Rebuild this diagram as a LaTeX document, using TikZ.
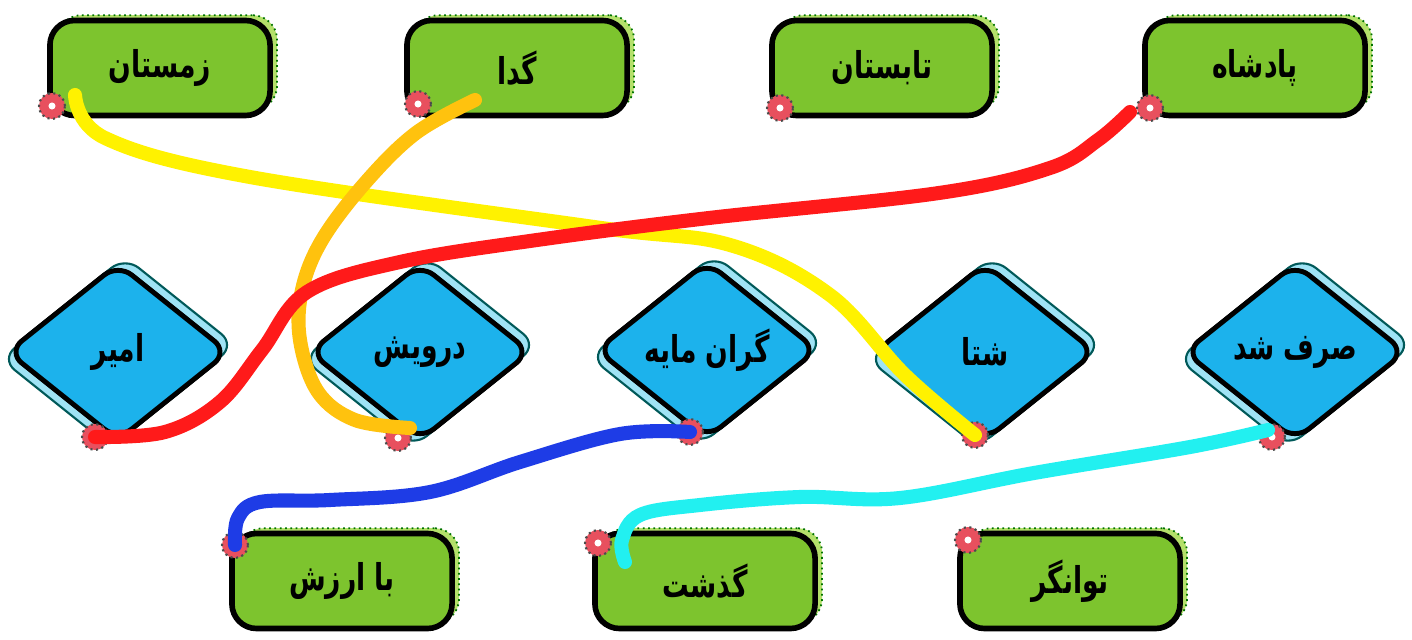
\documentclass[tikz,border=0pt]{standalone}
\usepackage{fontspec}
\newfontfamily\persianfont[Script=Arabic, FakeStretch=0.72]{DejaVu Sans}
\TeXXeTstate=1
\usetikzlibrary{shapes.geometric, shadows}

\newcommand{\fatext}[1]{{\persianfont\bfseries\fontsize{10.5}{12}\selectfont\beginR #1\endR}}

\definecolor{boxgreen}{HTML}{7DC42E}
\definecolor{rimgreen}{HTML}{B4E06A}
\definecolor{boxblue}{HTML}{1CB2EC}
\definecolor{rimblue}{HTML}{9FE3F5}
\definecolor{pinred}{HTML}{E8505E}
\definecolor{penyellow}{HTML}{FFF200}
\definecolor{penorange}{HTML}{FFC20E}
\definecolor{penred}{HTML}{FF1A1A}
\definecolor{penblue}{HTML}{1E3CE6}
\definecolor{pencyan}{HTML}{22F0F0}

\begin{document}
\begin{tikzpicture}[
  x=0.01cm, y=-0.01cm,
  word/.style={rectangle, draw, line width=1.6pt, rounded corners=7pt, fill=boxgreen,
    minimum width=2.2cm, minimum height=0.95cm,
    copy shadow={shadow xshift=2pt, shadow yshift=1.5pt, fill=rimgreen, draw=green!45!black, densely dotted, line width=0.5pt}},
  meaning/.style={diamond, aspect=1.25, draw, line width=1.4pt, rounded corners=5pt, fill=boxblue,
    minimum width=2.22cm, minimum height=1.78cm, inner sep=0pt,
    copy shadow={shadow xshift=2pt, shadow yshift=2pt, fill=rimblue, draw=teal!70!black, line width=0.6pt},
    copy shadow={shadow xshift=-2pt, shadow yshift=-2pt, fill=rimblue, draw=teal!70!black, line width=0.6pt}},
  pin/.style={circle, fill=pinred, draw=black!70, densely dotted, line width=0.6pt,
    minimum size=0.26cm, inner sep=0pt,
    path picture={\fill[white] (path picture bounding box.center) circle (1pt);}},
  pen/.style={line width=4pt, line cap=round, line join=round}
]

\fill[white] (0,0) rectangle (1412,640);
\useasboundingbox (0,0) rectangle (1412,640);

% Top words
\node[word] (zemestan) at (160,68) {\fatext{زمستان}};
\node[word] (gada) at (517,68) {\fatext{گدا}};
\node[word] (tabestan) at (882,68) {\fatext{تابستان}};
\node[word] (padshah) at (1255,68) {\fatext{پادشاه}};

% Meanings
\node[meaning] (amir) at (118,352) {\fatext{امیر}};
\node[meaning] (darvish) at (420,352) {\fatext{درویش}};
\node[meaning] (granmaye) at (707,350) {\fatext{گران مایه}};
\node[meaning] (shata) at (985,352) {\fatext{شتا}};
\node[meaning] (sarfshod) at (1295,352) {\fatext{صرف شد}};

% Bottom words
\node[word] (baarzesh) at (342,581) {\fatext{با ارزش}};
\node[word] (gozasht) at (705,581) {\fatext{گذشت}};
\node[word] (tavangar) at (1070,581) {\fatext{توانگر}};

% Pins
\node[pin] (zemestan-pin) at (52,106) {};
\node[pin] (gada-pin) at (418,104) {};
\node[pin] (tabestan-pin) at (780,108) {};
\node[pin] (padshah-pin) at (1150,108) {};
\node[pin] (amir-pin) at (95,437) {};
\node[pin] (darvish-pin) at (398,438) {};
\node[pin] (granmaye-pin) at (690,432) {};
\node[pin] (shata-pin) at (975,435) {};
\node[pin] (sarfshod-pin) at (1272,437) {};
\node[pin] (baarzesh-pin) at (235,545) {};
\node[pin] (gozasht-pin) at (598,543) {};
\node[pin] (tavangar-pin) at (968,540) {};

% Pen ends
\coordinate (zemestan-pen) at (75,95);
\coordinate (gada-pen) at (475,100);
\coordinate (padshah-pen) at (1130,112);
\coordinate (darvish-pen) at (410,428);
\coordinate (sarfshod-pen) at (1268,430);
\coordinate (gozasht-pen) at (625,562);

% Matching lines
\draw[pen, penyellow] plot[smooth, tension=0.6] coordinates {(zemestan-pen) (105,138) (250,177) (594,227) (730,245) (830,295) (905,375) (shata-pin)};
\draw[pen, penorange] plot[smooth, tension=0.6] coordinates {(gada-pen) (416,133) (365,183) (322,240) (302,290) (300,340) (318,392) (355,420) (darvish-pen)};
\draw[pen, penred] plot[smooth, tension=0.6] coordinates {(padshah-pen) (1098,140) (1050,168) (939,193) (709,218) (537,240) (400,262) (307,292) (262,350) (220,402) (165,432) (amir-pin)};
\draw[pen, penblue] plot[smooth, tension=0.6] coordinates {(granmaye-pin) (620,434) (520,462) (430,492) (330,500) (260,502) (238,518) (baarzesh-pin)};
\draw[pen, pencyan] plot[smooth, tension=0.6] coordinates {(sarfshod-pen) (1190,447) (1034,473) (900,498) (800,497) (700,505) (640,515) (622,540) (gozasht-pen)};

\end{tikzpicture}
\end{document}
